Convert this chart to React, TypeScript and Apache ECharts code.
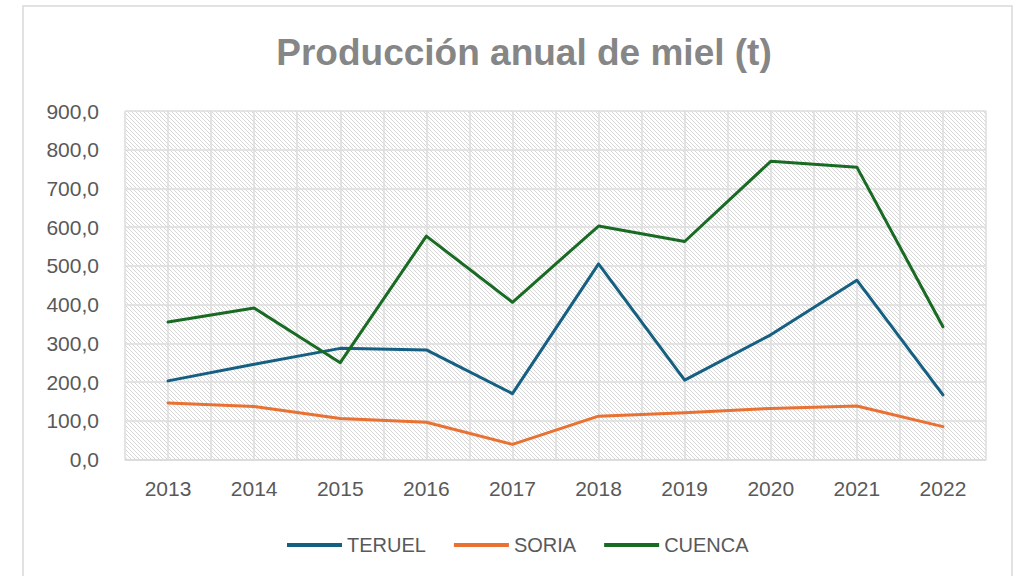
import React, { useEffect, useRef } from "react";
import * as echarts from "echarts";

const years = ["2013", "2014", "2015", "2016", "2017", "2018", "2019", "2020", "2021", "2022"];
const teruel = [203, 246, 287, 283, 170, 505, 205, 322, 463, 167];
const soria = [146, 137, 106, 96, 39, 112, 121, 132, 138, 85];
const cuenca = [355, 391, 250, 577, 406, 603, 563, 770, 755, 343];
const seriesNames = ["TERUEL", "SORIA", "CUENCA"];
const seriesColors = ["#156082", "#E97132", "#196B24"];

function makeHatch(): HTMLCanvasElement {
  const c = document.createElement("canvas");
  c.width = 8;
  c.height = 8;
  const ctx = c.getContext("2d")!;
  ctx.fillStyle = "#ffffff";
  ctx.fillRect(0, 0, 8, 8);
  ctx.strokeStyle = "#d6d6d6";
  ctx.lineWidth = 1;
  for (let k = -3; k <= 3; k++) {
    const cc = k * 4;
    ctx.beginPath();
    ctx.moveTo(cc - 2, -2);
    ctx.lineTo(cc + 10, 10);
    ctx.stroke();
  }
  return c;
}

export default function App() {
  const ref = useRef<HTMLDivElement>(null);
  useEffect(() => {
    if (!ref.current) return;
    const chart = echarts.init(ref.current, undefined, { renderer: "svg" });
    const hatch = makeHatch();
    const font = "Liberation Sans, Arial, sans-serif";
    const data = [teruel, soria, cuenca];
    chart.setOption({
      animation: false,
      backgroundColor: "#ffffff",
      textStyle: { fontFamily: font },
      title: {
        text: "Producción anual de miel (t)",
        left: 519,
        textAlign: "center",
        top: 29,
        textStyle: { fontSize: 37, fontWeight: "bold", color: "#868686", fontFamily: font },
      },
      graphic: [
        {
          type: "rect",
          shape: { x: 23, y: 6, width: 989, height: 580 },
          style: { fill: "none", stroke: "#d9d9d9", lineWidth: 1.5 },
          silent: true,
          z: -10,
        },
      ],
      legend: {
        left: 282,
        top: 530,
        icon: "rect",
        itemWidth: 55,
        itemHeight: 4,
        itemGap: 28,
        textStyle: { fontSize: 20, color: "#595959", fontFamily: font },
        data: seriesNames,
      },
      grid: {
        left: 125,
        right: 39,
        top: 111,
        bottom: 116.5,
        show: true,
        borderWidth: 0,
        backgroundColor: { image: hatch, repeat: "repeat", imageWidth: 8, imageHeight: 8 },
      },
      xAxis: [
        {
          type: "category",
          data: years,
          boundaryGap: true,
          axisLine: { show: true, lineStyle: { color: "#d9d9d9", width: 1.5 } },
          axisTick: { show: false },
          splitLine: { show: false },
          axisLabel: { fontSize: 21, color: "#595959", margin: 18, fontFamily: font },
        },
        {
          type: "value",
          min: 0,
          max: 20,
          interval: 1,
          show: true,
          position: "bottom",
          axisLine: { show: false },
          axisTick: { show: false },
          axisLabel: { show: false },
          splitLine: { show: true, lineStyle: { color: "#dddddd", width: 1.5 } },
        },
      ],
      yAxis: {
        type: "value",
        min: 0,
        max: 900,
        interval: 100,
        axisLine: { show: false },
        axisTick: { show: false },
        splitLine: { show: true, lineStyle: { color: "#dddddd", width: 1.5 } },
        axisLabel: {
          fontSize: 21,
          color: "#595959",
          margin: 26,
          fontFamily: font,
          formatter: (v: number) => v.toFixed(1).replace(".", ","),
        },
      },
      series: seriesNames.map((name, i) => ({
        name,
        type: "line",
        xAxisIndex: 0,
        data: data[i],
        showSymbol: false,
        symbol: "none",
        lineStyle: { color: seriesColors[i], width: 3, join: "round", cap: "round" },
        itemStyle: { color: seriesColors[i] },
        z: 3,
      })),
    });
    return () => chart.dispose();
  }, []);
  return (
    <div
      ref={ref}
      style={{ position: "fixed", left: 0, top: 0, width: 1025, height: 576 }}
    />
  );
}
